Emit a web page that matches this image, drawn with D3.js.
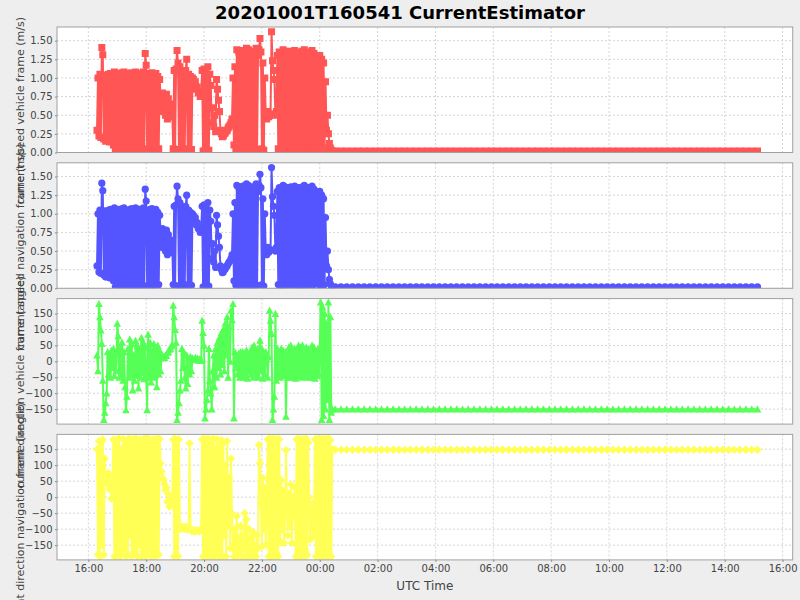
<!DOCTYPE html>
<html><head><meta charset="utf-8">
<script src="https://cdn.jsdelivr.net/npm/d3@7"></script>
<style>body{margin:0;background:#eeeeee}svg{display:block}</style>
</head><body><svg id="chart" width="800" height="600"></svg>
<script>
// minutes after 2020-10-01 16:00 UTC
const minutes = [
18,20,22,24,26,28,30,32,34,36,
38,40,42,44,46,48,50,52,54,56,
58,60,62,64,66,68,70,72,74,76,
78,80,82,84,86,88,90,92,94,96,
98,100,102,104,106,108,110,112,114,116,
118,120,122,124,126,128,130,132,134,136,
138,140,142,144,146,148,150,152,154,156,
158,160,162,164,166,168,170,172,174,176,
178,180,182,184,186,188,190,192,194,196,
198,200,202,204,206,208,210,212,214,216,
218,220,222,224,226,228,230,232,234,236,
238,240,242,244,246,248,250,252,254,256,
258,260,262,264,266,268,270,272,274,276,
278,280,282,284,286,288,290,292,294,296,
298,300,302,304,306,308,310,312,314,316,
318,320,322,324,326,328,330,332,334,336,
338,340,342,344,346,348,350,352,354,356,
358,360,362,364,366,368,370,372,374,376,
378,380,382,384,386,388,390,392,394,396,
398,400,402,404,406,408,410,412,414,416,
418,420,422,424,426,428,430,432,434,436,
438,440,442,444,446,448,450,452,454,456,
458,460,462,464,466,468,470,472,474,476,
478,480,482,484,486,488,490,492,494,496,
498,500,502,504,506,
512,524,536,548,560,572,584,596,608,620,
632,644,656,668,680,692,704,716,728,740,
752,764,776,788,800,812,824,836,848,860,
872,884,896,908,920,932,944,956,968,980,
992,1004,1016,1028,1040,1052,1064,1076,1088,1100,
1112,1124,1136,1148,1160,1172,1184,1196,1208,1220,
1232,1244,1256,1268,1280,1292,1304,1316,1328,1340,
1352,1364,1376,1388];

// current speed (m/s) — identical magnitude in vehicle and navigation frame
const speed = [
0.30,1.00,0.22,1.05,0.20,1.41,1.31,0.18,1.04,0.15,
1.02,0.20,1.05,0.14,1.06,0.16,1.04,0.10,1.08,0.02,
1.05,0.05,1.06,0.03,1.02,0.04,1.07,0.02,1.08,0.05,
1.05,0.02,1.04,0.03,1.06,0.02,1.07,0.04,1.03,0.02,
1.08,0.04,1.05,0.03,1.06,0.02,1.04,0.05,1.08,0.03,
1.33,1.17,0.03,1.05,0.04,1.06,0.02,1.07,0.04,1.05,
0.03,1.06,0.04,1.02,0.05,0.98,0.75,0.55,0.80,0.60,
0.70,0.50,0.78,0.45,0.72,0.55,0.65,0.48,0.60,0.05,
1.10,0.04,1.12,1.37,1.20,0.03,1.15,0.02,1.10,0.03,
1.08,0.05,1.10,1.25,0.03,1.05,0.04,1.02,0.04,1.00,
0.98,0.90,0.95,0.85,0.88,0.80,0.82,0.75,0.78,1.10,
0.02,1.12,0.03,1.10,0.02,1.15,0.03,1.05,0.90,0.40,
0.60,0.35,0.50,0.28,0.98,0.85,0.70,0.55,0.30,0.25,
0.21,0.22,0.25,0.26,0.29,0.30,0.33,0.35,0.37,0.40,
0.45,1.00,0.10,1.15,0.04,1.38,0.04,1.35,0.03,1.30,
0.05,1.37,0.04,1.36,0.02,1.40,0.03,1.38,0.04,1.33,
0.03,1.36,0.03,1.35,0.04,1.40,0.04,1.30,1.38,1.53,
1.35,0.05,1.20,0.03,1.00,0.50,0.45,0.55,0.48,0.50,
0.52,1.62,1.23,1.10,0.98,0.50,0.55,1.30,0.05,1.35,
0.04,1.32,0.03,1.38,0.02,1.36,0.05,1.35,0.05,1.30,
0.03,1.36,0.05,1.34,0.05,1.37,0.06,1.30,0.02,1.35,
0.08,1.33,0.04,1.36,0.06,1.38,0.03,1.30,0.05,1.35,
0.05,1.32,0.06,1.37,0.04,1.33,0.06,1.30,0.07,1.28,
0.05,1.30,0.04,1.25,0.06,1.20,0.05,0.95,0.30,0.50,
0.25,0.12,0.06,0.03,0.02,
0.02,0.02,0.02,0.02,0.02,0.02,0.02,0.02,0.02,0.02,
0.02,0.02,0.02,0.02,0.02,0.02,0.02,0.02,0.02,0.02,
0.02,0.02,0.02,0.02,0.02,0.02,0.02,0.02,0.02,0.02,
0.02,0.02,0.02,0.02,0.02,0.02,0.02,0.02,0.02,0.02,
0.02,0.02,0.02,0.02,0.02,0.02,0.02,0.02,0.02,0.02,
0.02,0.02,0.02,0.02,0.02,0.02,0.02,0.02,0.02,0.02,
0.02,0.02,0.02,0.02,0.02,0.02,0.02,0.02,0.02,0.02,
0.02,0.02,0.02,0.02];

// current direction, vehicle frame (angle)
const dirVehicle = [
20,-30,181,140,98,56,-60,-183,-160,-130,
-100,30,-40,20,-50,35,-20,40,-45,25,
-30,119,80,-50,45,-40,60,-60,30,-80,
-152,-110,40,-50,70,-40,55,-90,20,-60,
65,-45,50,-84,40,-50,75,-35,60,-55,
45,-40,-152,85,-50,60,-65,35,-50,55,
-45,40,-80,50,-40,35,-30,20,10,15,
12,20,18,28,30,38,40,48,52,176,
140,100,60,-183,-160,-130,-90,-60,40,-20,
30,-50,-84,20,-70,10,-40,15,-30,10,
5,8,12,6,10,4,8,2,5,129,
90,50,-178,-150,-120,-90,40,-60,-100,-150,
-30,20,-80,40,-50,60,-20,75,-40,90,
-10,100,-30,120,20,140,-50,110,0,160,
130,181,-178,30,-20,20,-40,25,-50,30,
-45,30,-50,25,-40,35,-53,20,-30,30,
-40,45,-50,50,-35,30,-45,40,-50,66,
-30,40,-53,25,-40,30,20,-50,15,160,
129,87,-183,-150,-110,150,-60,40,-40,30,
-50,40,-45,35,-40,30,-173,25,-50,45,
-40,50,-50,35,-45,40,-53,30,-45,50,
-35,45,-50,51,-45,30,-40,45,-50,40,
-45,35,-50,50,-40,45,-53,30,-45,40,
-40,30,186,-183,170,-170,150,-150,120,-120,
186,-183,140,-160,-150,
-150,-150,-150,-150,-150,-150,-150,-150,-150,-150,
-150,-150,-150,-150,-150,-150,-150,-150,-150,-150,
-150,-150,-150,-150,-150,-150,-150,-150,-150,-150,
-150,-150,-150,-150,-150,-150,-150,-150,-150,-150,
-150,-150,-150,-150,-150,-150,-150,-150,-150,-150,
-150,-150,-150,-150,-150,-150,-150,-150,-150,-150,
-150,-150,-150,-150,-150,-150,-150,-150,-150,-150,
-150,-150,-150,-150];

// current direction, navigation frame (angle)
const dirNavigation = [
150,-180,175,-185,170,-150,180,-180,120,60,
70,40,75,25,60,-5,50,180,-185,178,
-185,180,-170,183,-185,150,-180,182,-160,178,
-185,175,-180,183,-120,180,-185,160,-175,183,
-180,182,-185,170,-150,180,-185,178,-170,183,
-185,175,-180,183,-160,180,-185,170,-178,182,
-185,180,-175,183,-180,182,105,80,60,54,
40,22,30,-14,10,-30,0,-20,-25,180,
-185,183,-180,178,-185,180,-100,-95,-92,-98,
-95,-100,-92,-98,-102,-100,168,-100,-105,-103,
-105,-108,-103,-106,-105,-104,-107,-105,-100,180,
-185,183,-180,178,-185,182,-170,180,-185,175,
-180,183,-185,150,-175,180,-185,165,-180,178,
-185,170,-120,100,-185,175,-90,60,-160,120,
-50,-150,-185,-100,-170,-60,-185,-130,-175,-90,
-185,-120,-160,-50,-185,-70,-150,-185,-100,-175,
-130,-185,-110,-175,-150,-185,-120,-160,163,106,
-20,-154,60,-100,30,-150,-60,180,-185,183,
-185,180,-180,183,-185,178,-175,182,-185,180,
-140,53,-100,20,-143,-60,147,-30,-120,10,
-90,40,-143,0,-60,30,-185,180,-185,183,
-180,178,-185,182,-170,180,-185,183,-180,170,
0,-133,-40,-100,-20,-120,180,-185,183,-180,
178,-185,182,-180,180,-185,183,-175,180,-185,
183,-180,178,-185,150,
148,148,148,148,148,148,148,148,148,148,
148,148,148,148,148,148,148,148,148,148,
148,148,148,148,148,148,148,148,148,148,
148,148,148,148,148,148,148,148,148,148,
148,148,148,148,148,148,148,148,148,148,
148,148,148,148,148,148,148,148,148,148,
148,148,148,148,148,148,148,148,148,148,
148,148,148,148];

const title = "20201001T160541 CurrentEstimator";
const xAxisLabel = "UTC Time";
const yLabels = [
  "current speed vehicle frame (m/s)",
  "current speed navigation frame (m/s)",
  "current direction vehicle frame (angle)",
  "current direction navigation frame (angle)"
];
const speedTicks = [0, 0.25, 0.5, 0.75, 1.0, 1.25, 1.5];
const angleTicks = [-150, -100, -50, 0, 50, 100, 150];
const seriesColors = ["#ff5555", "#5555ff", "#55ff55", "#ffff55"];

// ---------- drawing ----------
const svg = d3.select("#chart");
const W = 800, H = 600;
const left = 57, right = 792.7;
const panelH = 125.5, panelStep = 135.8, firstTop = 27;
const base = Date.UTC(2020, 9, 1, 16, 0);
const toDate = m => new Date(base + m * 60000);

const x = d3.scaleUtc()
  .domain([new Date(Date.UTC(2020, 9, 1, 14, 55)), new Date(Date.UTC(2020, 9, 2, 16, 21))])
  .range([left, right]);

svg.append("rect").attr("width", W).attr("height", H).attr("fill", "#eeeeee");

svg.append("text").attr("x", 400).attr("y", 18.5).attr("text-anchor", "middle")
  .attr("font-family", "DejaVu Sans").attr("font-weight", "bold").attr("font-size", 18)
  .attr("fill", "#000").text(title);

const shapes = [
  "M-3.5,-3.5h7v7h-7Z",
  "M3.6,0A3.6,3.6 0 1,1 -3.6,0A3.6,3.6 0 1,1 3.6,0Z",
  "M0,-3.8L3.8,3.4L-3.8,3.4Z",
  "M0,-4.2L4.2,0L0,4.2L-4.2,0Z"
];
const seriesValues = [speed, speed, dirVehicle, dirNavigation];
const domains = [[0, 1.684], [0, 1.684], [-197, 197], [-196, 196]];
const tickSets = [speedTicks, speedTicks, angleTicks, angleTicks];
const fmts = [d3.format(".2f"), d3.format(".2f"), d3.format("d"), d3.format("d")];

const xTicks = x.ticks(d3.utcHour.every(2));

seriesValues.forEach((vals, i) => {
  const top = firstTop + i * panelStep, bottom = top + panelH;
  const y = d3.scaleLinear().domain(domains[i]).range([bottom, top]);
  const g = svg.append("g");
  const clipId = "clip" + i;
  svg.append("clipPath").attr("id", clipId).append("rect")
    .attr("x", left).attr("y", top).attr("width", right - left).attr("height", panelH);
  g.append("rect").attr("x", left).attr("y", top).attr("width", right - left).attr("height", panelH)
    .attr("fill", "#ffffff");
  // grid
  g.selectAll(".vg").data(xTicks).join("line")
    .attr("x1", d => x(d)).attr("x2", d => x(d)).attr("y1", top).attr("y2", bottom)
    .attr("stroke", "#d6d6d6").attr("stroke-width", 1).attr("stroke-dasharray", "2,2");
  g.selectAll(".hg").data(tickSets[i]).join("line")
    .attr("x1", left).attr("x2", right).attr("y1", d => y(d)).attr("y2", d => y(d))
    .attr("stroke", "#d6d6d6").attr("stroke-width", 1).attr("stroke-dasharray", "2,2");
  // data
  const n = Math.min(minutes.length, vals.length);
  const pts = d3.range(n).map(k => [toDate(minutes[k]), vals[k]]);
  const data = g.append("g").attr("clip-path", `url(#${clipId})`);
  data.append("path").datum(pts)
    .attr("d", d3.line().x(d => x(d[0])).y(d => y(d[1])))
    .attr("fill", "none").attr("stroke", seriesColors[i]).attr("stroke-width", 2)
    .attr("stroke-linejoin", "round");
  data.selectAll("path.m").data(pts).join("path").attr("class", "m")
    .attr("transform", d => `translate(${x(d[0])},${y(d[1])})`)
    .attr("d", shapes[i]).attr("fill", seriesColors[i]);
  // border
  g.append("rect").attr("x", left).attr("y", top).attr("width", right - left).attr("height", panelH)
    .attr("fill", "none").attr("stroke", "#a0a0a0").attr("stroke-width", 1);
  // y axis
  const ya = svg.append("g").attr("transform", `translate(${left},0)`)
    .call(d3.axisLeft(y).tickValues(tickSets[i]).tickFormat(fmts[i]).tickSize(2).tickSizeOuter(0).tickPadding(2.5));
  ya.select(".domain").remove();
  ya.selectAll("line").attr("stroke", "#888");
  ya.selectAll("text").attr("font-family", "DejaVu Sans").attr("font-size", 10).attr("fill", "#444");
  // y label (long labels overflow their panel, as in the original)
  svg.append("text")
    .attr("transform", `translate(24,${(top + bottom) / 2 + 21}) rotate(-90)`)
    .attr("text-anchor", "middle").attr("font-family", "DejaVu Sans").attr("font-size", 11)
    .attr("fill", "#444").text(yLabels[i]);
  if (i === 3) {
    const xa = svg.append("g").attr("transform", `translate(0,${bottom})`)
      .call(d3.axisBottom(x).tickValues(xTicks).tickFormat(d3.utcFormat("%H:%M")).tickSize(2).tickSizeOuter(0).tickPadding(3));
    xa.select(".domain").remove();
    xa.selectAll("line").attr("stroke", "#888");
    xa.selectAll("text").attr("font-family", "DejaVu Sans").attr("font-size", 10).attr("fill", "#444");
    svg.append("text").attr("x", (left + right) / 2).attr("y", 590).attr("text-anchor", "middle")
      .attr("font-family", "DejaVu Sans").attr("font-size", 12).attr("fill", "#444").text(xAxisLabel);
  }
});
</script></body></html>
